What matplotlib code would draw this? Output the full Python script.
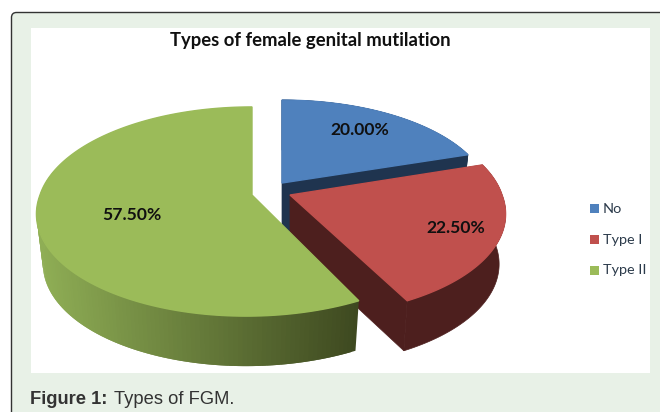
import matplotlib.pyplot as plt
import numpy as np
from matplotlib.patches import FancyBboxPatch, Rectangle

TITLE = "Types of female genital mutilation"
CATEGORIES = ["No", "Type I", "Type II"]
SHARES = [20.0, 22.5, 57.5]

TOP_COLORS = ["#4f81bd", "#c0504d", "#9bbb59"]
WALL_COLORS = ["#1f344f", "#4d1f1e", None]
# apex of each exploded slice and its half sizes, in picture pixels
APEX = [(282, 183), (290, 195), (252, 195)]
WIDTH = [205, 212, 212]
HEIGHT = [96, 102, 102]
SKEW = [0, 5, -5]
LABEL_POS = [(360, 130), (456, 228), (132, 215)]
PERSP = 0.158
DEPTH = 50
SHRINK = 0.97


def rim(theta, i, low=False):
    u, v = np.sin(theta), np.cos(theta)
    w = 1 + PERSP * v
    scale = SHRINK if low else 1.0
    dy = DEPTH if low else 0
    x = APEX[i][0] + scale * WIDTH[i] * u / w - SKEW[i] * np.minimum(v, 0) / w
    return x, APEX[i][1] + dy - HEIGHT[i] * v / w


fig, ax = plt.subplots(figsize=(6.6, 4.12), dpi=100)
fig.patch.set_facecolor("white")
ax.set_position([0, 0, 1, 1])
ax.set_xlim(0, 660)
ax.set_ylim(412, 0)
ax.axis("off")

ax.add_patch(FancyBboxPatch((11.5, 12.5), 700, 450,
                            boxstyle="round,pad=0,rounding_size=5",
                            fc="#e8f1e7", ec="#333333", lw=1.0))
ax.add_patch(Rectangle((31, 28), 619, 345, fc="white", ec="none"))

edges = np.cumsum([0] + SHARES) * 3.6
for i, share in enumerate(SHARES):
    start, stop = np.radians(edges[i]), np.radians(edges[i + 1])
    apex = APEX[i]
    t = np.linspace(start, stop, 160)
    if WALL_COLORS[i] is not None:
        xs, ys = rim(t, i)
        xl, yl = rim(t, i, low=True)
        # a thin stroke closes the seam between side face and rim wall
        ax.fill(np.r_[apex[0], xs, xl[-1], apex[0]],
                np.r_[apex[1], ys, yl[-1], apex[1] + DEPTH],
                color=WALL_COLORS[i], lw=0.5)
        ax.fill(np.r_[xs, xl[::-1]], np.r_[ys, yl[::-1]],
                color=WALL_COLORS[i], lw=0.5)
    else:
        t = np.linspace(start, np.radians(285), 120)
        xs, ys = rim(t, i)
        xl, yl = rim(t, i, low=True)
        dark, light = np.array([0x3e, 0x49, 0x20]), np.array([0x8f, 0xae, 0x55])
        for j in range(len(t) - 2):
            frac = np.clip((xs[j] - 40) / 320, 0, 1)
            col = (light + (dark - light) * frac) / 255
            ax.fill([xs[j], xs[j + 2], xl[j + 2], xl[j]],
                    [ys[j], ys[j + 2], yl[j + 2], yl[j]],
                    color=col, lw=0)
    t = np.linspace(start, stop, 160)
    xs, ys = rim(t, i)
    ax.fill(np.r_[apex[0], xs], np.r_[apex[1], ys], color=TOP_COLORS[i], lw=1.0)

for share, pos in zip(SHARES, LABEL_POS):
    ax.text(pos[0], pos[1], f"{share:.2f}%", ha="center", va="center",
            fontsize=12.6, fontweight="bold", family="Lato", color="#101010")

ax.text(310.5, 40, TITLE, ha="center", va="center", fontsize=13.3,
        fontweight="bold", family="Lato", color="#101010")

for i, name in enumerate(CATEGORIES):
    y = 208 + 31 * i
    ax.add_patch(Rectangle((590, y - 4), 8.5, 8.5, fc=TOP_COLORS[i], ec="none"))
    ax.text(603, y + 0.5, name, ha="left", va="center", fontsize=10.4,
            family="Lato", color="#2b3a4a")

ax.text(30, 399.5, "Figure 1:", ha="left", va="center", fontsize=13.2,
        fontweight="bold", family="Liberation Sans", color="#333333")
ax.text(114.5, 399.5, "Types of FGM.", ha="left", va="center", fontsize=13.2,
        family="Liberation Sans", color="#333333")

fig.savefig("out.png", dpi=100)
